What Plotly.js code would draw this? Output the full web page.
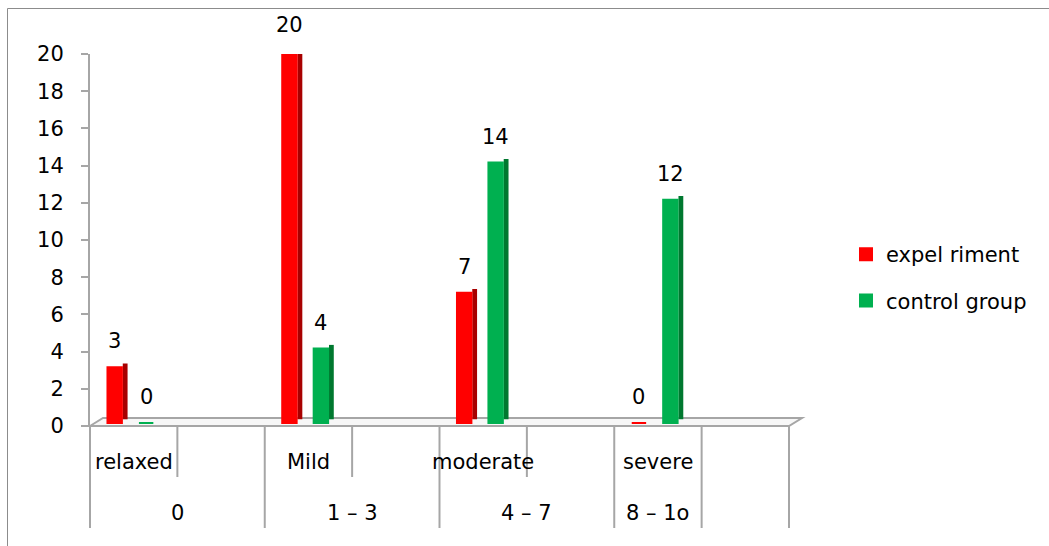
<!DOCTYPE html>
<html>
<head>
<meta charset="utf-8">
<script src="https://cdn.plot.ly/plotly-3.0.1.min.js"></script>
<style>
  html, body { margin: 0; padding: 0; background: #fff; }
  #chart { width: 1049px; height: 546px; }
</style>
</head>
<body>
<div id="chart"></div>
<script>
// ---- data ----
var categories = ['relaxed', 'Mild', 'moderate', 'severe'];
var scoreRanges = ['0', '1 \u2013 3', '4 \u2013 7', '8 \u2013 1o'];
var experiment = [3, 20, 7, 0];
var control = [0, 4, 14, 12];
var seriesNames = ['expel riment', 'control group'];
var yTicks = [0, 2, 4, 6, 8, 10, 12, 14, 16, 18, 20];

// ---- layout helpers ----
var FONT = 'DejaVu Sans, Verdana, sans-serif';
var FS = 21;
var nSlots = 8;                       // 4 categories, each followed by an empty slot
var xPos = categories.map(function (c, i) { return 2 * i + 0.5; });
var rangeSpans = [[0, 2], [2, 4], [4, 6], [6, 7]];

var RED = '#ff0000', RED_SIDE = '#a80000';
var GREEN = '#00b050', GREEN_SIDE = '#00782f';
var GRID = '#a6a6a6';

// pixel geometry of the plot area
var L = 90, R = 789, T = 54, B = 426;
function px(xp) { return (xp - L) / (R - L); }
function py(yp) { return (B - yp) / (B - T); }

var frontW = 0.165, sideW = 0.055;
var redOff = -0.30, greenOff = 0.06;

function frontTrace(vals, off, color, name, grp) {
  return {
    type: 'bar', x: xPos, y: vals, base: 0.16,
    offset: off, width: frontW,
    marker: { color: color, line: { width: 2, color: color } },
    name: name, legendgroup: grp, showlegend: true,
    hoverinfo: 'skip'
  };
}
function sideTrace(vals, off, color, grp) {
  return {
    type: 'bar', x: xPos, y: vals, base: 0.36,
    offset: off + frontW + 0.01, width: sideW,
    marker: { color: color, line: { width: 0 } },
    legendgroup: grp, showlegend: false, hoverinfo: 'skip'
  };
}

var data = [
  sideTrace(experiment, redOff, RED_SIDE, 'g1'),
  sideTrace(control, greenOff, GREEN_SIDE, 'g2'),
  frontTrace(experiment, redOff, RED, seriesNames[0], 'g1'),
  frontTrace(control, greenOff, GREEN, seriesNames[1], 'g2')
];

var annotations = [];
// value labels
experiment.forEach(function (v, i) {
  annotations.push({ x: xPos[i] + redOff + frontW / 2, y: v, xref: 'x', yref: 'y',
    text: String(v), showarrow: false, yanchor: 'middle', yshift: 29,
    font: { family: FONT, size: FS, color: '#000' } });
});
control.forEach(function (v, i) {
  annotations.push({ x: xPos[i] + greenOff + frontW / 2, y: v, xref: 'x', yref: 'y',
    text: String(v), showarrow: false, yanchor: 'middle', yshift: 29,
    font: { family: FONT, size: FS, color: '#000' } });
});
// category labels (level 1)
categories.forEach(function (c, i) {
  annotations.push({ x: xPos[i], y: 0, xref: 'x', yref: 'paper', text: c,
    showarrow: false, yanchor: 'middle', yshift: -36,
    font: { family: FONT, size: FS, color: '#000' } });
});
// score range labels (level 2)
scoreRanges.forEach(function (r, i) {
  var s = rangeSpans[i];
  annotations.push({ x: (s[0] + s[1]) / 2, y: 0, xref: 'x', yref: 'paper', text: r,
    showarrow: false, yanchor: 'middle', yshift: -87,
    font: { family: FONT, size: FS, color: '#000' } });
});

var shapes = [];
// outer chart border
shapes.push({ type: 'rect', xref: 'paper', yref: 'paper',
  x0: px(7.5), x1: px(1200), y0: py(8.5), y1: py(700),
  line: { color: '#8c8c8c', width: 1 }, fillcolor: 'rgba(0,0,0,0)', layer: 'below' });
// floor
var fx0 = 0, fx1 = 1, fdx = px(103) - px(90), fdy = py(418) - py(426);
shapes.push({ type: 'path', xref: 'paper', yref: 'paper',
  path: 'M ' + fx0 + ' 0 L ' + (fx0 + fdx) + ' ' + fdy + ' L ' + (fx1 + fdx) + ' ' + fdy + ' L ' + fx1 + ' 0 Z',
  fillcolor: '#f7f7f7', line: { color: GRID, width: 2 }, layer: 'below' });
// category dividers below the axis
var bounds = {};
rangeSpans.forEach(function (s) { bounds[s[0]] = 1; bounds[s[1]] = 1; });
bounds[nSlots] = 1;
for (var k = 0; k <= nSlots; k++) {
  var full = !!bounds[k];
  shapes.push({ type: 'line', xref: 'paper', yref: 'paper',
    x0: k / nSlots, x1: k / nSlots, y0: 0, y1: full ? py(528) : py(477),
    line: { color: GRID, width: 2 } });
}

var layout = {
  width: 1049, height: 546,
  margin: { l: L, r: 1049 - R, t: T, b: 546 - B, pad: 0 },
  paper_bgcolor: '#ffffff', plot_bgcolor: 'rgba(0,0,0,0)',
  barmode: 'overlay',
  font: { family: FONT, size: FS, color: '#000' },
  xaxis: { range: [0, nSlots], showgrid: false, zeroline: false, showline: false,
    showticklabels: false, ticks: '', fixedrange: true },
  yaxis: { range: [0, 20], tickvals: yTicks, ticktext: yTicks.map(String),
    showgrid: false, zeroline: false, showline: true, linecolor: GRID, linewidth: 2,
    ticks: 'outside', ticklen: 7, tickwidth: 2, tickcolor: GRID,
    ticklabelstandoff: 13,
    tickfont: { family: FONT, size: FS, color: '#000' }, fixedrange: true },
  showlegend: true,
  legend: { x: px(846), xanchor: 'left', y: py(234), yanchor: 'top',
    traceorder: 'grouped', tracegroupgap: 16,
    font: { family: FONT, size: FS, color: '#000' }, bgcolor: 'rgba(0,0,0,0)' },
  annotations: annotations,
  shapes: shapes
};

Plotly.newPlot('chart', data, layout, { displayModeBar: false, staticPlot: true });
</script>
</body>
</html>
